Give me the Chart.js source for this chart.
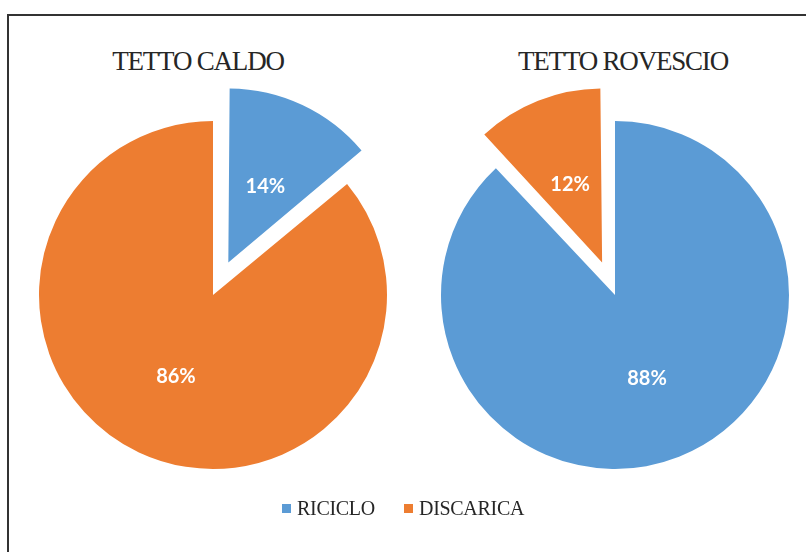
<!DOCTYPE html>
<html>
<head>
    <meta charset="utf-8" />
    <title>Tetto caldo / Tetto rovescio</title>
    <script src="https://cdn.jsdelivr.net/npm/chart.js@4.4.1/dist/chart.umd.min.js"></script>
    <style>
        html, body { margin: 0; padding: 0; background: #fff; overflow: hidden; }
        #wrap { position: relative; width: 806px; height: 552px; }
        .frame { position: absolute; left: 7px; top: 14px; width: 810px; height: 560px;
                 border-top: 2px solid #333; border-left: 2px solid #333; }
        canvas { position: absolute; }
        .title { position: absolute; width: 400px; text-align: center; font-family: "Liberation Serif", serif;
                 font-size: 27px; letter-spacing: -1.2px; line-height: 30px; color: #262626; }
        .leg { position: absolute; top: 498px; height: 20px; display: flex; align-items: center;
               font-family: "Liberation Serif", serif; font-size: 20px; color: #262626; letter-spacing: -0.3px; }
        .leg span.box { width: 9px; height: 9px; margin-right: 6px; display: inline-block; }
    </style>
</head>
<body>
<div id="wrap">
    <div class="frame"></div>
    <div class="title" style="left:-2px; top:46px;">TETTO CALDO</div>
    <div class="title" style="left:423px; top:46px;">TETTO ROVESCIO</div>
    <canvas id="pie-caldo" width="426" height="552" style="left:0; top:0;"></canvas>
    <canvas id="pie-rovescio" width="382" height="552" style="left:424px; top:0;"></canvas>
    <div class="leg" id="leg-0" style="left:282px;"></div>
    <div class="leg" id="leg-1" style="left:404px;"></div>
</div>

<script>
// dati
const categories = ["RICICLO", "DISCARICA"];
const caldoValues = [14, 86];
const rovescioValues = [88, 12];
const colors = ["#5B9BD5", "#ED7D31"];

const PIE_R = 174;

// legenda html comune
categories.forEach(function (c, i) {
    var el = document.getElementById("leg-" + i);
    el.innerHTML = '<span class="box" style="background:' + colors[i] + '"></span>' + c;
});

// chart.js v4 sposta la fetta di offset/4 e la ingrandisce un po': qui si rimette il raggio giusto
const fixExplode = {
    id: "fixExplode",
    afterDatasetsUpdate(chart) {
        chart.getDatasetMeta(0).data.forEach(function (arc) {
            const off = (arc.options.offset || 0) / 4;
            if (!off) return;
            const fix = 1 - Math.sin(Math.min(Math.PI, arc.circumference || 0));
            arc.outerRadius = PIE_R - off * fix;
        });
    }
};

// etichette percentuali dentro le fette
const pctLabels = {
    id: "pctLabels",
    afterDatasetsDraw(chart) {
        const ctx = chart.ctx;
        const meta = chart.getDatasetMeta(0);
        const vals = chart.data.datasets[0].data;
        ctx.save();
        ctx.fillStyle = "#fff";
        ctx.font = "bold 20px Lato, 'Open Sans', sans-serif";
        ctx.textAlign = "center";
        ctx.textBaseline = "middle";
        meta.data.forEach(function (arc, i) {
            const p = arc.getProps(["x", "y", "startAngle", "endAngle"], true);
            const off = (arc.options.offset || 0) / 4;
            const mid = (p.startAngle + p.endAngle) / 2;
            const d = off + PIE_R * 0.5;
            ctx.fillText(vals[i] + "%", p.x + Math.cos(mid) * d, p.y + Math.sin(mid) * d + 3);
        });
        ctx.restore();
    }
};

function makePie(id, values, offsets) {
    var ctx = document.getElementById(id)?.getContext("2d");
    if (!ctx) { console.warn("canvas non trovato: " + id); return; }
    new Chart(ctx, {
        type: "pie",
        data: {
            labels: categories,
            datasets: [{
                data: values,
                backgroundColor: colors,
                borderWidth: 0,
                offset: offsets
            }]
        },
        options: {
            responsive: false,
            animation: false,
            radius: PIE_R,
            layout: { padding: { top: 38 } },
            plugins: {
                legend: { display: false },
                title: { display: false },
                tooltip: { enabled: false }
            }
        },
        plugins: [fixExplode, pctLabels]
    });
}

// offset = 4 x spostamento in pixel
makePie("pie-caldo", caldoValues, [144, 0]);
makePie("pie-rovescio", rovescioValues, [0, 140]);
</script>
</body>
</html>
